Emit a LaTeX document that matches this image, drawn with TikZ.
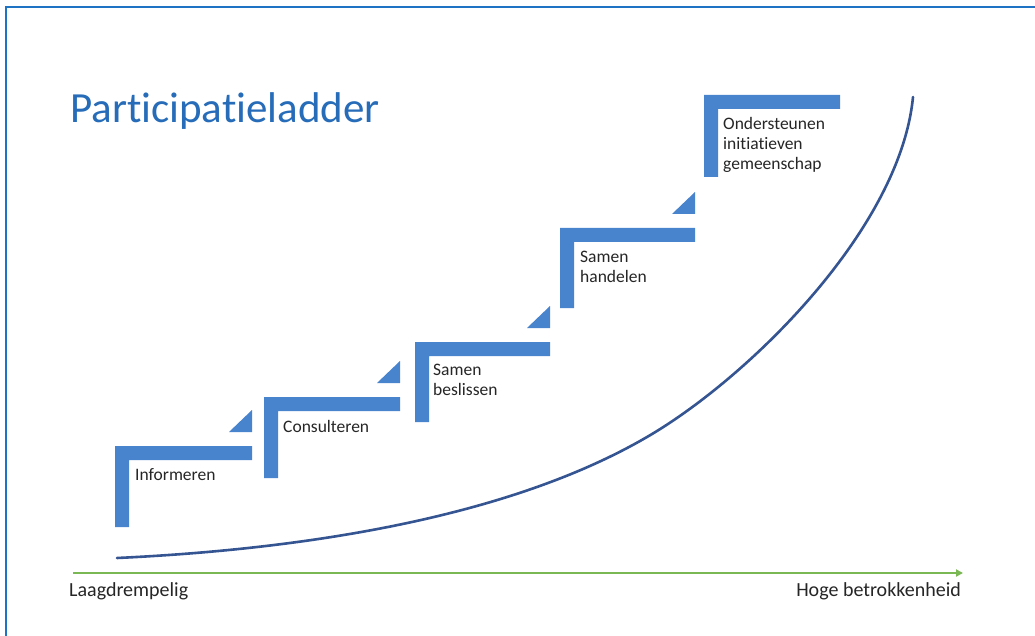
\documentclass[tikz,border=0pt]{standalone}
\usepackage{fontspec}
\setmainfont{Carlito}[Ligatures=NoCommon]
\usetikzlibrary{arrows.meta}
\definecolor{stepblue}{RGB}{72,132,206}
\definecolor{titleblue}{RGB}{38,108,184}
\definecolor{frameblue}{RGB}{30,115,196}
\definecolor{curveblue}{RGB}{52,84,146}
\definecolor{axisgreen}{RGB}{122,184,84}
\definecolor{txt}{RGB}{38,38,38}
\begin{document}
\begin{tikzpicture}[x=1pt,y=-1pt,
  stepfill/.style={fill=stepblue},
  steplabel/.style={anchor=west,inner sep=0pt,align=left,text=txt,font=\fontsize{17.5}{20}\selectfont},
  axlabel/.style={inner sep=0pt,text=txt,font=\fontsize{20}{24}\selectfont},
  curveline/.style={draw=curveblue,line width=2.6pt,line cap=round},
  axisline/.style={draw=axisgreen,line width=2pt,-{Triangle[length=7pt,width=7pt]}},
  frameline/.style={draw=frameblue,line width=2.5pt}]
\useasboundingbox (0,0) rectangle (1035,636);
\fill[white] (0,0) rectangle (1035,636);
\draw[frameline] (6,636) -- (6,7) -- (1035,7);
% title
\node[anchor=base west,inner sep=0pt,text=titleblue,font=\fontsize{43}{50}\selectfont] (title) at (70,123) {Participatieladder};
% steps: x0, ytop, ybot, xright
\foreach \xa/\yt/\yb/\xr in {115/446/527/252, 264/397/478/400, 415/342/422/550, 560/228/308/695, 704/95/177/840}{
  \fill[stepfill] (\xa,\yb) -- (\xa,\yt) -- (\xr,\yt) -- (\xr,\yt+14) -- (\xa+14,\yt+14) -- (\xa+14,\yb) -- cycle;
}
% triangles above step ends
\foreach \yt/\xr in {446/252, 397/400, 342/550, 228/695}{
  \fill[stepfill] (\xr-23,\yt-14) -- (\xr,\yt-14) -- (\xr,\yt-36) -- cycle;
}
% labels
\node[steplabel] (s1) at (135,475) {Informeren};
\node[steplabel] (s2) at (283,426) {Consulteren};
\node[steplabel] (s3) at (433,380) {Samen\\beslissen};
\node[steplabel] (s4) at (580,267) {Samen\\handelen};
\node[steplabel] (s5) at (723,145) {Ondersteunen\\initiatieven\\gemeenschap};
% curve
\coordinate (c0) at (117,558);
\coordinate (cm) at (647,437);
\coordinate (c1) at (913,97);
\draw[curveline] (c0) .. controls (330,548) and (520,511) .. (cm)
                      .. controls (747,379) and (900,230) .. (c1);
% axis
\coordinate (axL) at (73,573);
\coordinate (axR) at (963,573);
\draw[axisline] (axL) -- (axR);
\node[axlabel,anchor=base west] (lo) at (69,596) {Laagdrempelig};
\node[axlabel,anchor=base east] (hi) at (961,596) {Hoge betrokkenheid};
\end{tikzpicture}
\end{document}
